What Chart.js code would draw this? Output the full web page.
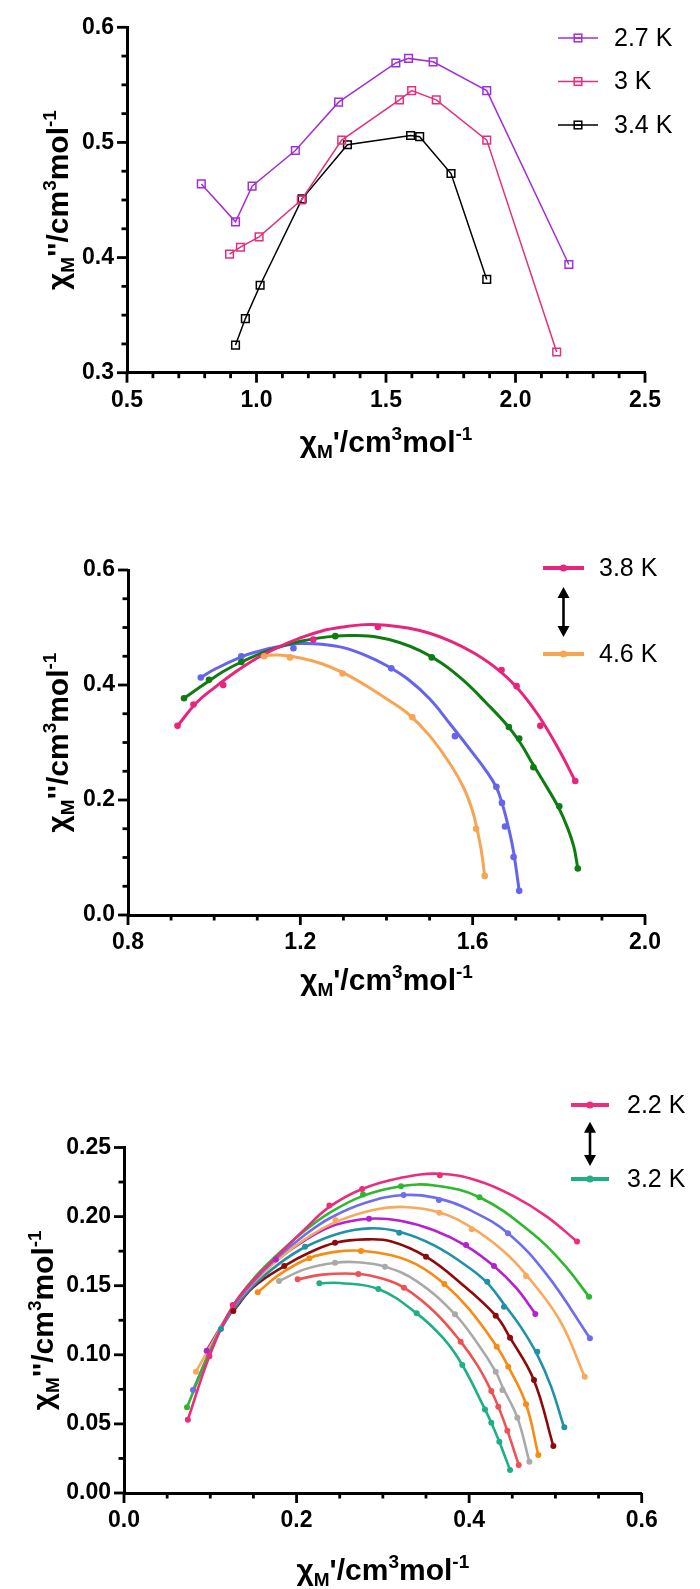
<!DOCTYPE html>
<html><head><meta charset="utf-8">
<script src="https://cdn.jsdelivr.net/npm/chart.js@4.4.0/dist/chart.umd.min.js"></script>
<style>
html,body{margin:0;padding:0;background:#fff;}
#wrap{position:relative;width:700px;height:1589px;overflow:hidden;background:#fff;}
canvas{position:absolute;left:0;}
</style></head><body>
<div id="wrap">
<canvas id="c1" width="700" height="480" style="top:0px"></canvas>
<canvas id="c2" width="700" height="530" style="top:480px"></canvas>
<canvas id="c3" width="700" height="579" style="top:1010px"></canvas>
</div>
<script>
// ---------------- DATA ----------------
// Panel 1 (open squares, straight lines)
const P1_X_LABELS = ['0.5','1.0','1.5','2.0','2.5'];
const P1_Y_LABELS = ['0.3','0.4','0.5','0.6'];
const P1_SERIES_NAMES = ['2.7 K','3 K','3.4 K'];
const P1_T27 = [[0.787,0.464],[0.919,0.431],[0.983,0.462],[1.150,0.493],[1.317,0.535],[1.538,0.569],[1.587,0.573],[1.682,0.570],[1.889,0.545],[2.206,0.394]];
const P1_T30 = [[0.896,0.403],[0.938,0.409],[1.010,0.418],[1.173,0.450],[1.329,0.502],[1.552,0.537],[1.599,0.545],[1.694,0.537],[1.889,0.502],[2.159,0.318]];
const P1_T34 = [[0.919,0.324],[0.957,0.347],[1.014,0.376],[1.176,0.451],[1.351,0.498],[1.595,0.506],[1.630,0.505],[1.751,0.473],[1.889,0.381]];

// Panel 2 (points + fitted curves)
const P2_X_LABELS = ['0.8','1.2','1.6','2.0'];
const P2_Y_LABELS = ['0.0','0.2','0.4','0.6'];
const P2_LEGEND = ['3.8 K','4.6 K'];
const P2_PINK_PTS = [[0.915,0.329],[0.952,0.366],[1.021,0.400],[1.230,0.479],[1.380,0.501],[1.667,0.426],[1.702,0.398],[1.757,0.329],[1.838,0.233]];
const P2_GREEN_PTS = [[0.930,0.377],[0.988,0.409],[1.063,0.440],[1.281,0.485],[1.505,0.448],[1.684,0.327],[1.708,0.307],[1.741,0.257],[1.801,0.189],[1.844,0.081]];
const P2_BLUE_PTS = [[0.969,0.413],[1.063,0.450],[1.184,0.464],[1.411,0.429],[1.559,0.311],[1.655,0.223],[1.668,0.195],[1.675,0.154],[1.695,0.101],[1.708,0.042]];
const P2_ORANGE_PTS = [[1.116,0.450],[1.176,0.448],[1.298,0.420],[1.460,0.344],[1.608,0.150],[1.628,0.068]];
const P2_PINK_FIT = [[0.915,0.329],[0.96,0.370],[1.0,0.395],[1.05,0.423],[1.1,0.447],[1.15,0.466],[1.2,0.482],[1.25,0.494],[1.3,0.501],[1.35,0.505],[1.4,0.504],[1.45,0.499],[1.5,0.490],[1.55,0.476],[1.6,0.457],[1.65,0.432],[1.7,0.398],[1.75,0.350],[1.8,0.288],[1.838,0.233]];
const P2_GREEN_FIT = [[0.930,0.377],[0.98,0.403],[1.02,0.423],[1.063,0.440],[1.13,0.461],[1.2,0.476],[1.28,0.485],[1.33,0.486],[1.38,0.483],[1.43,0.474],[1.48,0.459],[1.53,0.437],[1.58,0.407],[1.63,0.370],[1.68,0.330],[1.71,0.300],[1.74,0.262],[1.77,0.225],[1.80,0.186],[1.82,0.152],[1.835,0.118],[1.844,0.081]];
const P2_BLUE_FIT = [[0.969,0.413],[1.0,0.427],[1.063,0.449],[1.1,0.458],[1.15,0.467],[1.2,0.472],[1.25,0.471],[1.3,0.465],[1.35,0.452],[1.4,0.434],[1.45,0.410],[1.5,0.376],[1.55,0.330],[1.6,0.282],[1.63,0.252],[1.655,0.222],[1.668,0.195],[1.68,0.162],[1.692,0.122],[1.70,0.085],[1.708,0.042]];
const P2_ORANGE_FIT = [[1.116,0.451],[1.15,0.452],[1.2,0.447],[1.25,0.437],[1.3,0.421],[1.35,0.400],[1.4,0.376],[1.45,0.350],[1.5,0.312],[1.55,0.260],[1.58,0.220],[1.6,0.180],[1.61,0.150],[1.62,0.112],[1.628,0.068]];

// Panel 3 (points + fitted curves), 2.2 K ... 3.2 K
const P3_X_LABELS = ['0.0','0.2','0.4','0.6'];
const P3_Y_LABELS = ['0.00','0.05','0.10','0.15','0.20','0.25'];
const P3_LEGEND = ['2.2 K','3.2 K'];
const P3_PTS = [
  [[0.074,0.053],[0.099,0.099],[0.126,0.136],[0.238,0.208],[0.276,0.220],[0.366,0.230],[0.525,0.182]],
  [[0.073,0.062],[0.277,0.216],[0.321,0.222],[0.412,0.214],[0.539,0.142]],
  [[0.080,0.0745],[0.324,0.2156],[0.365,0.212],[0.445,0.188],[0.540,0.112]],
  [[0.0834,0.0878],[0.245,0.1975],[0.3655,0.2028],[0.403,0.1908],[0.466,0.157],[0.534,0.0842]],
  [[0.0958,0.103],[0.176,0.169],[0.284,0.1985],[0.3964,0.1795],[0.4288,0.1643],[0.4767,0.1295]],
  [[0.1124,0.1187],[0.2098,0.1782],[0.319,0.1884],[0.421,0.1529],[0.4404,0.1348],[0.479,0.1022],[0.5103,0.0475]],
  [[0.1267,0.1317],[0.1858,0.1643],[0.2446,0.1811],[0.35,0.171],[0.4308,0.1283],[0.4474,0.1124],[0.4752,0.0818],[0.4976,0.034]],
  [[0.155,0.1452],[0.2148,0.1698],[0.2747,0.1751],[0.3713,0.1512],[0.432,0.1059],[0.4454,0.0914],[0.466,0.0642],[0.4802,0.0275]],
  [[0.1797,0.1534],[0.2446,0.1666],[0.3025,0.1638],[0.3836,0.1293],[0.4308,0.0878],[0.4385,0.0745],[0.4559,0.0545],[0.4698,0.0227]],
  [[0.2013,0.1546],[0.2716,0.1585],[0.3245,0.1486],[0.3902,0.1095],[0.4257,0.0738],[0.4338,0.0625],[0.4443,0.0451],[0.4575,0.0203]],
  [[0.2264,0.1517],[0.2948,0.1476],[0.3392,0.130],[0.3921,0.0926],[0.4184,0.0605],[0.4257,0.0509],[0.435,0.0371],[0.4474,0.0166]]
];
const P3_FIT = [
  [[0.074,0.053],[0.099,0.099],[0.126,0.135],[0.15,0.154],[0.177,0.171],[0.208,0.190],[0.238,0.207],[0.276,0.220],[0.32,0.228],[0.366,0.231],[0.41,0.226],[0.451,0.215],[0.49,0.200],[0.525,0.182]],
  [[0.073,0.062],[0.1,0.103],[0.126,0.135],[0.15,0.155],[0.177,0.172],[0.208,0.189],[0.239,0.203],[0.277,0.215],[0.321,0.222],[0.36,0.2225],[0.412,0.214],[0.471,0.189],[0.509,0.166],[0.539,0.142]],
  [[0.080,0.0745],[0.1,0.103],[0.126,0.134],[0.15,0.153],[0.177,0.170],[0.208,0.186],[0.239,0.199],[0.28,0.210],[0.324,0.2156],[0.365,0.213],[0.40,0.205],[0.445,0.188],[0.49,0.158],[0.54,0.112]],
  [[0.0834,0.0878],[0.1,0.106],[0.126,0.134],[0.15,0.152],[0.177,0.168],[0.208,0.183],[0.245,0.196],[0.29,0.205],[0.325,0.207],[0.366,0.203],[0.403,0.192],[0.44,0.175],[0.466,0.158],[0.505,0.125],[0.534,0.084]],
  [[0.0958,0.103],[0.11,0.118],[0.126,0.134],[0.15,0.152],[0.176,0.168],[0.21,0.183],[0.245,0.194],[0.284,0.1985],[0.32,0.197],[0.36,0.190],[0.396,0.179],[0.429,0.164],[0.455,0.148],[0.477,0.1295]],
  [[0.1124,0.1187],[0.126,0.132],[0.15,0.150],[0.18,0.166],[0.21,0.178],[0.25,0.188],[0.285,0.1915],[0.319,0.189],[0.36,0.179],[0.40,0.163],[0.421,0.152],[0.44,0.137],[0.46,0.120],[0.479,0.100],[0.495,0.077],[0.510,0.0475]],
  [[0.1267,0.1317],[0.15,0.149],[0.186,0.1643],[0.215,0.174],[0.245,0.181],[0.28,0.1835],[0.31,0.182],[0.35,0.171],[0.39,0.152],[0.431,0.1283],[0.4474,0.1124],[0.475,0.0818],[0.4976,0.034]],
  [[0.155,0.1452],[0.18,0.158],[0.215,0.170],[0.245,0.1745],[0.275,0.1753],[0.31,0.172],[0.34,0.165],[0.3713,0.1512],[0.40,0.133],[0.432,0.106],[0.4454,0.0914],[0.466,0.0642],[0.4802,0.0275]],
  [[0.1797,0.1534],[0.21,0.162],[0.245,0.1666],[0.27,0.167],[0.3025,0.1638],[0.34,0.153],[0.3836,0.1293],[0.41,0.108],[0.4308,0.0878],[0.4385,0.077],[0.4559,0.0545],[0.4698,0.0227]],
  [[0.2013,0.1546],[0.23,0.158],[0.2716,0.1585],[0.30,0.155],[0.3245,0.1486],[0.36,0.131],[0.3902,0.1095],[0.41,0.092],[0.4257,0.0738],[0.4338,0.0625],[0.4443,0.0451],[0.4575,0.0203]],
  [[0.2264,0.1517],[0.25,0.152],[0.2948,0.1476],[0.3392,0.130],[0.37,0.112],[0.3921,0.0926],[0.4184,0.0605],[0.4257,0.0509],[0.435,0.0371],[0.4474,0.0166]]
];

// ---------------- STYLE ----------------
const P1_COLORS = ['#A22FD6','#E3307E','#000000'];
const P2_COLORS = {pink:'#E8247C', green:'#0E7C12', blue:'#6464EE', orange:'#F7A553'};
const P3_COLORS = ['#EC2D7E','#2DB82D','#6D6DEE','#F9A85C','#B521CF','#1F92AA','#8E0A0A','#F78B14','#A9A9A9','#EE5252','#1EAF87'];
const FONT = '"Liberation Sans", Arial, Helvetica, sans-serif';

const xy = a => a.map(p => ({x:p[0], y:p[1]}));
const vals = labels => labels.map(Number);

function range(min, max, step){ const r=[]; const n=Math.round((max-min)/step); for(let i=0;i<=n;i++) r.push(+(min+i*step).toFixed(6)); return r; }

function drawRich(ctx, parts, x, y, rotate){
  ctx.save();
  ctx.translate(x, y);
  if (rotate) ctx.rotate(-Math.PI/2);
  let total = 0;
  parts.forEach(p => { ctx.font = 'bold ' + p.s + 'px ' + FONT; p.w = ctx.measureText(p.t).width; total += p.w; });
  let cx = -total/2;
  ctx.fillStyle = '#000'; ctx.textBaseline = 'alphabetic'; ctx.textAlign = 'left';
  parts.forEach(p => { ctx.font = 'bold ' + p.s + 'px ' + FONT; ctx.fillText(p.t, cx, p.dy || 0); cx += p.w; });
  ctx.restore();
}
function titleParts(primes){
  return [
    {t:'\u03C7', s:30}, {t:'M', s:19, dy:6}, {t:primes, s:30}, {t:'/cm', s:30},
    {t:'3', s:19, dy:-12}, {t:'mol', s:30}, {t:'-1', s:19, dy:-12}
  ];
}
function drawArrow(ctx, x, y1, y2){
  ctx.save();
  ctx.strokeStyle = '#000'; ctx.fillStyle = '#000'; ctx.lineWidth = 2.6;
  const hl = 11, hw = 6;
  ctx.beginPath(); ctx.moveTo(x, y1 + hl - 1); ctx.lineTo(x, y2 - hl + 1); ctx.stroke();
  ctx.beginPath(); ctx.moveTo(x, y1); ctx.lineTo(x - hw, y1 + hl); ctx.lineTo(x + hw, y1 + hl); ctx.closePath(); ctx.fill();
  ctx.beginPath(); ctx.moveTo(x, y2); ctx.lineTo(x - hw, y2 - hl); ctx.lineTo(x + hw, y2 - hl); ctx.closePath(); ctx.fill();
  ctx.restore();
}

function decorPlugin(cfg){
  return {
    id: 'decor',
    afterDraw(chart){
      const ctx = chart.ctx, a = chart.chartArea, xs = chart.scales.x, ys = chart.scales.y;
      ctx.save();
      ctx.strokeStyle = '#000'; ctx.lineWidth = 2.8; ctx.lineCap = 'butt';
      const isMaj = (v, arr) => arr.some(m => Math.abs(m - v) < 1e-6);
      range(xs.min, xs.max, cfg.xMinor).forEach(v => {
        const px = xs.getPixelForValue(v); const len = isMaj(v, cfg.xMajor) ? 10 : 5.5;
        ctx.beginPath(); ctx.moveTo(px, a.bottom); ctx.lineTo(px, a.bottom + len); ctx.stroke();
      });
      range(ys.min, ys.max, cfg.yMinor).forEach(v => {
        const py = ys.getPixelForValue(v); const len = isMaj(v, cfg.yMajor) ? 10 : 5.5;
        ctx.beginPath(); ctx.moveTo(a.left, py); ctx.lineTo(a.left - len, py); ctx.stroke();
      });
      ctx.restore();
      drawRich(ctx, titleParts("'"), (a.left + a.right)/2, cfg.xTitleY, false);
      drawRich(ctx, titleParts("''"), cfg.yTitleX, (a.top + a.bottom)/2, true);
      // legend
      cfg.legend.forEach(it => {
        ctx.save();
        ctx.strokeStyle = it.color; ctx.fillStyle = it.color;
        ctx.lineWidth = it.lw;
        ctx.beginPath(); ctx.moveTo(cfg.legX1, it.y); ctx.lineTo(cfg.legX2, it.y); ctx.stroke();
        const mx = (cfg.legX1 + cfg.legX2)/2;
        if (it.kind === 'square') {
          ctx.lineWidth = 1.5; ctx.fillStyle = '#fff';
          ctx.strokeRect(mx - 3.8, it.y - 3.8, 7.6, 7.6);
          ctx.beginPath(); ctx.moveTo(mx - 3.8, it.y); ctx.lineTo(mx + 3.8, it.y); ctx.stroke();
        } else {
          ctx.beginPath(); ctx.arc(mx, it.y, 3.6, 0, Math.PI*2); ctx.fill();
        }
        ctx.fillStyle = '#000'; ctx.font = cfg.legFont + 'px ' + FONT;
        ctx.textBaseline = 'middle'; ctx.textAlign = 'left';
        ctx.fillText(it.label, cfg.legTextX, it.y + 1);
        ctx.restore();
      });
      if (cfg.arrow) drawArrow(ctx, cfg.arrow.x, cfg.arrow.y1, cfg.arrow.y2);
    }
  };
}

function scales(o){
  const xv = vals(o.xLabels), yv = vals(o.yLabels);
  const tickFont = {family: FONT, size: 23, weight: 'bold'};
  return {
    x: {
      type: 'linear', min: xv[0], max: xv[xv.length-1],
      afterBuildTicks: s => { s.ticks = xv.map(v => ({value: v})); },
      afterFit: s => { s.height = o.xH; },
      ticks: {font: tickFont, color: '#000', padding: 14, maxRotation: 0, autoSkip: false,
              callback: (v, i) => o.xLabels[i]},
      grid: {display: false, drawTicks: false},
      border: {display: true, color: '#000', width: 3}
    },
    y: {
      type: 'linear', min: yv[0], max: yv[yv.length-1],
      afterBuildTicks: s => { s.ticks = yv.map(v => ({value: v})); },
      afterFit: s => { s.width = o.yW; },
      ticks: {font: tickFont, color: '#000', padding: 13, autoSkip: false,
              callback: (v, i) => o.yLabels[i]},
      grid: {display: false, drawTicks: false},
      border: {display: true, color: '#000', width: 3}
    }
  };
}

const baseOpts = (o) => ({
  responsive: false, animation: false, devicePixelRatio: 1,
  layout: {padding: {left: 0, right: o.padR, top: o.padT, bottom: 0}},
  plugins: {legend: {display: false}, tooltip: {enabled: false}},
  scales: scales(o)
});

// ---------------- CHART 1 ----------------
const p1Sets = [P1_T27, P1_T30, P1_T34].map((d, i) => ({
  label: P1_SERIES_NAMES[i], data: xy(d), showLine: true, tension: 0,
  borderColor: P1_COLORS[i], borderWidth: 1.5,
  pointStyle: 'rect', pointRadius: 5.4, pointBorderWidth: 1.5,
  pointBorderColor: P1_COLORS[i], pointBackgroundColor: 'rgba(0,0,0,0)'
}));
new Chart(document.getElementById('c1'), {
  type: 'scatter',
  data: {datasets: p1Sets},
  options: baseOpts({xLabels: P1_X_LABELS, yLabels: P1_Y_LABELS, xH: 107.3, yW: 127, padR: 55, padT: 27.3}),
  plugins: [decorPlugin({
    xMajor: vals(P1_X_LABELS), yMajor: vals(P1_Y_LABELS), xMinor: 0.1, yMinor: 0.025,
    xTitleY: 452, yTitleX: 68,
    legX1: 558, legX2: 598, legTextX: 614, legFont: 25,
    legend: P1_SERIES_NAMES.map((n, i) => ({label: n, color: P1_COLORS[i], y: [38, 81.5, 125][i], kind: 'square', lw: 1.5}))
  })]
});

// ---------------- CHART 2 ----------------
const p2Pts = [[P2_PINK_PTS,'pink'],[P2_GREEN_PTS,'green'],[P2_BLUE_PTS,'blue'],[P2_ORANGE_PTS,'orange']];
const p2Fit = [[P2_PINK_FIT,'pink'],[P2_GREEN_FIT,'green'],[P2_BLUE_FIT,'blue'],[P2_ORANGE_FIT,'orange']];
const p2Sets = [];
p2Pts.forEach(([d, c]) => p2Sets.push({data: xy(d), showLine: false, order: 1, pointRadius: 3.3,
  pointBackgroundColor: P2_COLORS[c], pointBorderColor: P2_COLORS[c], pointBorderWidth: 0}));
p2Fit.forEach(([d, c]) => p2Sets.push({data: xy(d), showLine: true, order: 2, pointRadius: 0,
  borderColor: P2_COLORS[c], borderWidth: 3, tension: 0.4}));
new Chart(document.getElementById('c2'), {
  type: 'scatter',
  data: {datasets: p2Sets},
  options: baseOpts({xLabels: P2_X_LABELS, yLabels: P2_Y_LABELS, xH: 95, yW: 128, padR: 55, padT: 90}),
  plugins: [decorPlugin({
    xMajor: vals(P2_X_LABELS), yMajor: vals(P2_Y_LABELS), xMinor: 0.1, yMinor: 0.05,
    xTitleY: 510, yTitleX: 68,
    legX1: 543, legX2: 584, legTextX: 599, legFont: 25,
    legend: [{label: P2_LEGEND[0], color: P2_COLORS.pink, y: 88, kind: 'dot', lw: 4},
             {label: P2_LEGEND[1], color: P2_COLORS.orange, y: 174, kind: 'dot', lw: 4}],
    arrow: {x: 563.5, y1: 107, y2: 157}
  })]
});

// ---------------- CHART 3 ----------------
const p3Sets = [];
P3_PTS.forEach((d, i) => p3Sets.push({data: xy(d), showLine: false, order: 1, pointRadius: 3,
  pointBackgroundColor: P3_COLORS[i], pointBorderColor: P3_COLORS[i], pointBorderWidth: 0}));
P3_FIT.forEach((d, i) => p3Sets.push({data: xy(d), showLine: true, order: 2, pointRadius: 0,
  borderColor: P3_COLORS[i], borderWidth: 2.6, tension: 0.4}));
new Chart(document.getElementById('c3'), {
  type: 'scatter',
  data: {datasets: p3Sets},
  options: baseOpts({xLabels: P3_X_LABELS, yLabels: P3_Y_LABELS, xH: 96, yW: 124, padR: 58.3, padT: 137.5}),
  plugins: [decorPlugin({
    xMajor: vals(P3_X_LABELS), yMajor: vals(P3_Y_LABELS), xMinor: 0.05, yMinor: 0.025,
    xTitleY: 570, yTitleX: 52.5,
    legX1: 571, legX2: 609, legTextX: 627, legFont: 25,
    legend: [{label: P3_LEGEND[0], color: P3_COLORS[0], y: 95, kind: 'dot', lw: 4},
             {label: P3_LEGEND[1], color: P3_COLORS[10], y: 169, kind: 'dot', lw: 4}],
    arrow: {x: 590, y1: 111.7, y2: 156}
  })]
});
</script>
</body></html>
